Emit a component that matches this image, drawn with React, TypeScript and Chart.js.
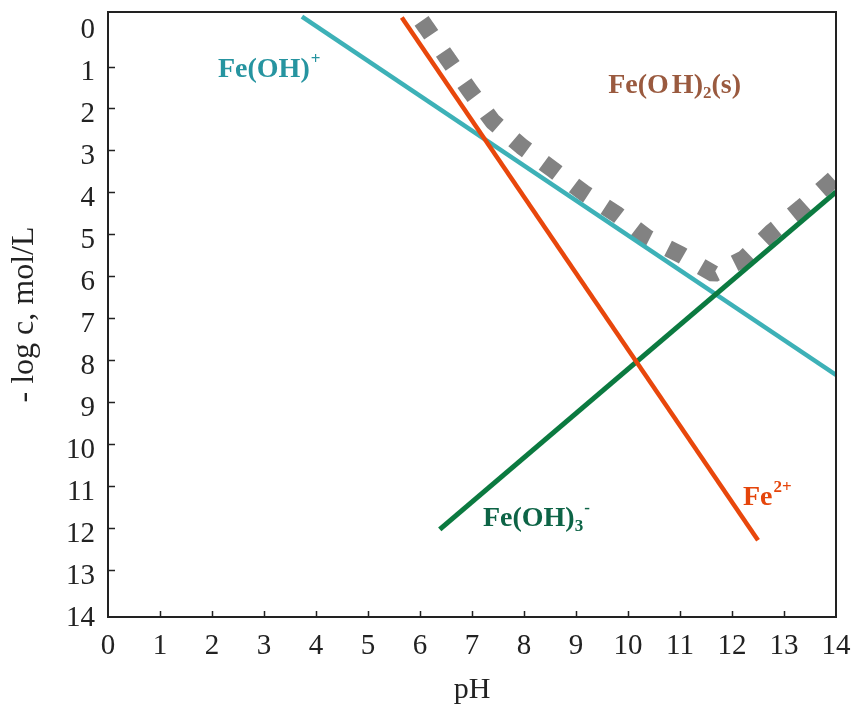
import React, { useEffect, useRef } from "react";
import { Chart, registerables } from "chart.js";

Chart.register(...registerables);

// pH tick labels and -log c tick labels
const pHTicks = [0, 1, 2, 3, 4, 5, 6, 7, 8, 9, 10, 11, 12, 13, 14];
const logCTicks = [0, 1, 2, 3, 4, 5, 6, 7, 8, 9, 10, 11, 12, 13, 14];

// Fe(OH)+ line (pH, -log c)
const feOHPlusPH = [3.73, 14.0];
const feOHPlusLogC = [-0.19, 8.35];

// Fe2+ line
const fe2PlusPH = [5.65, 12.5];
const fe2PlusLogC = [-0.17, 12.29];

// Fe(OH)3- line
const feOH3MinusPH = [6.38, 14.0];
const feOH3MinusLogC = [12.03, 3.99];

// Fe(OH)2(s) solubility boundary (dotted)
const solubilityPH = [6.03, 6.12, 6.54, 6.96, 7.4, 7.96, 8.56, 9.15, 9.77, 10.37, 11.02, 11.65, 12.23, 12.75, 13.33, 13.83, 14.0];
const solubilityLogC = [-0.09, 0.07, 0.83, 1.58, 2.31, 2.91, 3.46, 4.01, 4.51, 5.08, 5.49, 5.94, 5.58, 4.96, 4.37, 3.82, 3.63];

const toPoints = (xs: number[], ys: number[]) => xs.map((x, i) => ({ x, y: ys[i] }));

type Part = { t: string; m?: "sub" | "sup"; gap?: number };
type Label = { parts: Part[]; x: number; y: number; color: string };

const labels: Label[] = [
  { parts: [{ t: "Fe(OH)" }, { t: "+", m: "sup" }], x: 2.115, y: 1.24, color: "#2694a0" },
  { parts: [{ t: "Fe(O" }, { t: "H)", gap: 3 }, { t: "2", m: "sub" }, { t: "(s)" }], x: 9.62, y: 1.62, color: "#9a5a3f" },
  { parts: [{ t: "Fe" }, { t: "2+", m: "sup" }], x: 12.21, y: 11.45, color: "#e5450b" },
  { parts: [{ t: "Fe(OH)" }, { t: "3", m: "sub" }, { t: "-", m: "sup" }], x: 7.21, y: 11.95, color: "#0d6446" },
];

const FONT = "'Liberation Serif', 'Times New Roman', serif";

const decorPlugin = {
  id: "decor",
  afterDraw(chart: any) {
    const { ctx, chartArea, scales } = chart;
    const { left, right, top, bottom } = chartArea;
    const xs = scales.x;
    const ys = scales.y;
    ctx.save();
    ctx.strokeStyle = "#222";
    ctx.lineWidth = 1.5;
    ctx.beginPath();
    pHTicks.forEach((v) => {
      if (v === pHTicks[0] || v === pHTicks[pHTicks.length - 1]) return;
      const px = Math.round(xs.getPixelForValue(v)) + 0.5;
      ctx.moveTo(px, bottom);
      ctx.lineTo(px, bottom - 6);
    });
    logCTicks.forEach((v) => {
      if (v === logCTicks[0] || v === logCTicks[logCTicks.length - 1]) return;
      const py = Math.round(ys.getPixelForValue(v)) + 0.5;
      ctx.moveTo(left, py);
      ctx.lineTo(left + 7, py);
    });
    ctx.stroke();
    ctx.lineWidth = 2;
    ctx.strokeRect(left, top, right - left, bottom - top);

    // annotations
    const size = 28;
    const small = 17;
    labels.forEach((lab) => {
      let cx = xs.getPixelForValue(lab.x);
      const by = ys.getPixelForValue(lab.y);
      ctx.fillStyle = lab.color;
      ctx.textBaseline = "alphabetic";
      ctx.textAlign = "left";
      lab.parts.forEach((p) => {
        cx += p.gap || 0;
        if (p.m === "sub") {
          ctx.font = `bold ${small}px ${FONT}`;
          ctx.fillText(p.t, cx, by + 5);
        } else if (p.m === "sup") {
          ctx.font = `bold ${small}px ${FONT}`;
          ctx.fillText(p.t, cx + 1, by - 13);
        } else {
          ctx.font = `bold ${size}px ${FONT}`;
          ctx.fillText(p.t, cx, by);
        }
        cx += ctx.measureText(p.t).width;
      });
    });
    ctx.restore();
  },
};

export default function App() {
  const ref = useRef<HTMLCanvasElement | null>(null);

  useEffect(() => {
    if (!ref.current) return;
    const chart = new Chart(ref.current, {
      type: "scatter",
      data: {
        datasets: [
          {
            label: "Fe(OH)2(s)",
            data: toPoints(solubilityPH, solubilityLogC),
            showLine: true,
            borderColor: "#828282",
            borderWidth: 17,
            borderDash: [17, 20.8],
            borderCapStyle: "butt",
            borderJoinStyle: "bevel",
            pointRadius: 0,
            order: 4,
          },
          {
            label: "Fe(OH)+",
            data: toPoints(feOHPlusPH, feOHPlusLogC),
            showLine: true,
            borderColor: "#3db1b7",
            borderWidth: 4.5,
            pointRadius: 0,
            order: 3,
          },
          {
            label: "Fe2+",
            data: toPoints(fe2PlusPH, fe2PlusLogC),
            showLine: true,
            borderColor: "#e8470c",
            borderWidth: 4.5,
            pointRadius: 0,
            order: 1,
          },
          {
            label: "Fe(OH)3-",
            data: toPoints(feOH3MinusPH, feOH3MinusLogC),
            showLine: true,
            borderColor: "#0b7a40",
            borderWidth: 5,
            pointRadius: 0,
            order: 2,
          },
        ],
      },
      options: {
        responsive: false,
        animation: false,
        events: [],
        layout: { padding: { top: 12, right: 20, left: 0, bottom: 0 } },
        plugins: {
          legend: { display: false },
          tooltip: { enabled: false },
        },
        scales: {
          x: {
            type: "linear",
            min: 0,
            max: 14,
            grid: { display: false, drawTicks: false },
            border: { display: false },
            ticks: {
              stepSize: 1,
              padding: 12,
              color: "#222",
              font: { family: FONT, size: 29 },
              maxRotation: 0,
              autoSkip: false,
            },
            title: {
              display: true,
              text: "pH",
              color: "#222",
              font: { family: FONT, size: 30 },
              padding: { top: 0, bottom: 0 },
            },
            afterBuildTicks: (axis: any) => {
              axis.ticks = pHTicks.map((v) => ({ value: v }));
            },
            afterFit: (scale: any) => {
              scale.height = 91;
              scale.paddingLeft = 0;
              scale.paddingRight = 0;
            },
          },
          y: {
            type: "linear",
            reverse: true,
            min: -0.3,
            max: 14.12,
            grid: { display: false, drawTicks: false },
            border: { display: false },
            ticks: {
              padding: 13,
              labelOffset: 6,
              color: "#222",
              font: { family: FONT, size: 29 },
              autoSkip: false,
            },
            title: {
              display: true,
              text: "- log c, mol/L",
              color: "#222",
              font: { family: FONT, size: 32 },
              padding: { top: 5, bottom: 0 },
            },
            afterBuildTicks: (axis: any) => {
              axis.ticks = logCTicks.map((v) => ({ value: v }));
            },
            afterFit: (scale: any) => {
              scale.width = 108;
              scale.paddingTop = 0;
              scale.paddingBottom = 0;
            },
          },
        },
      },
      plugins: [decorPlugin],
    } as any);
    return () => chart.destroy();
  }, []);

  return (
    <div style={{ position: "fixed", left: 0, top: 0, width: 856, height: 708, background: "#fff" }}>
      <canvas ref={ref} width={856} height={708} style={{ display: "block" }} />
    </div>
  );
}
